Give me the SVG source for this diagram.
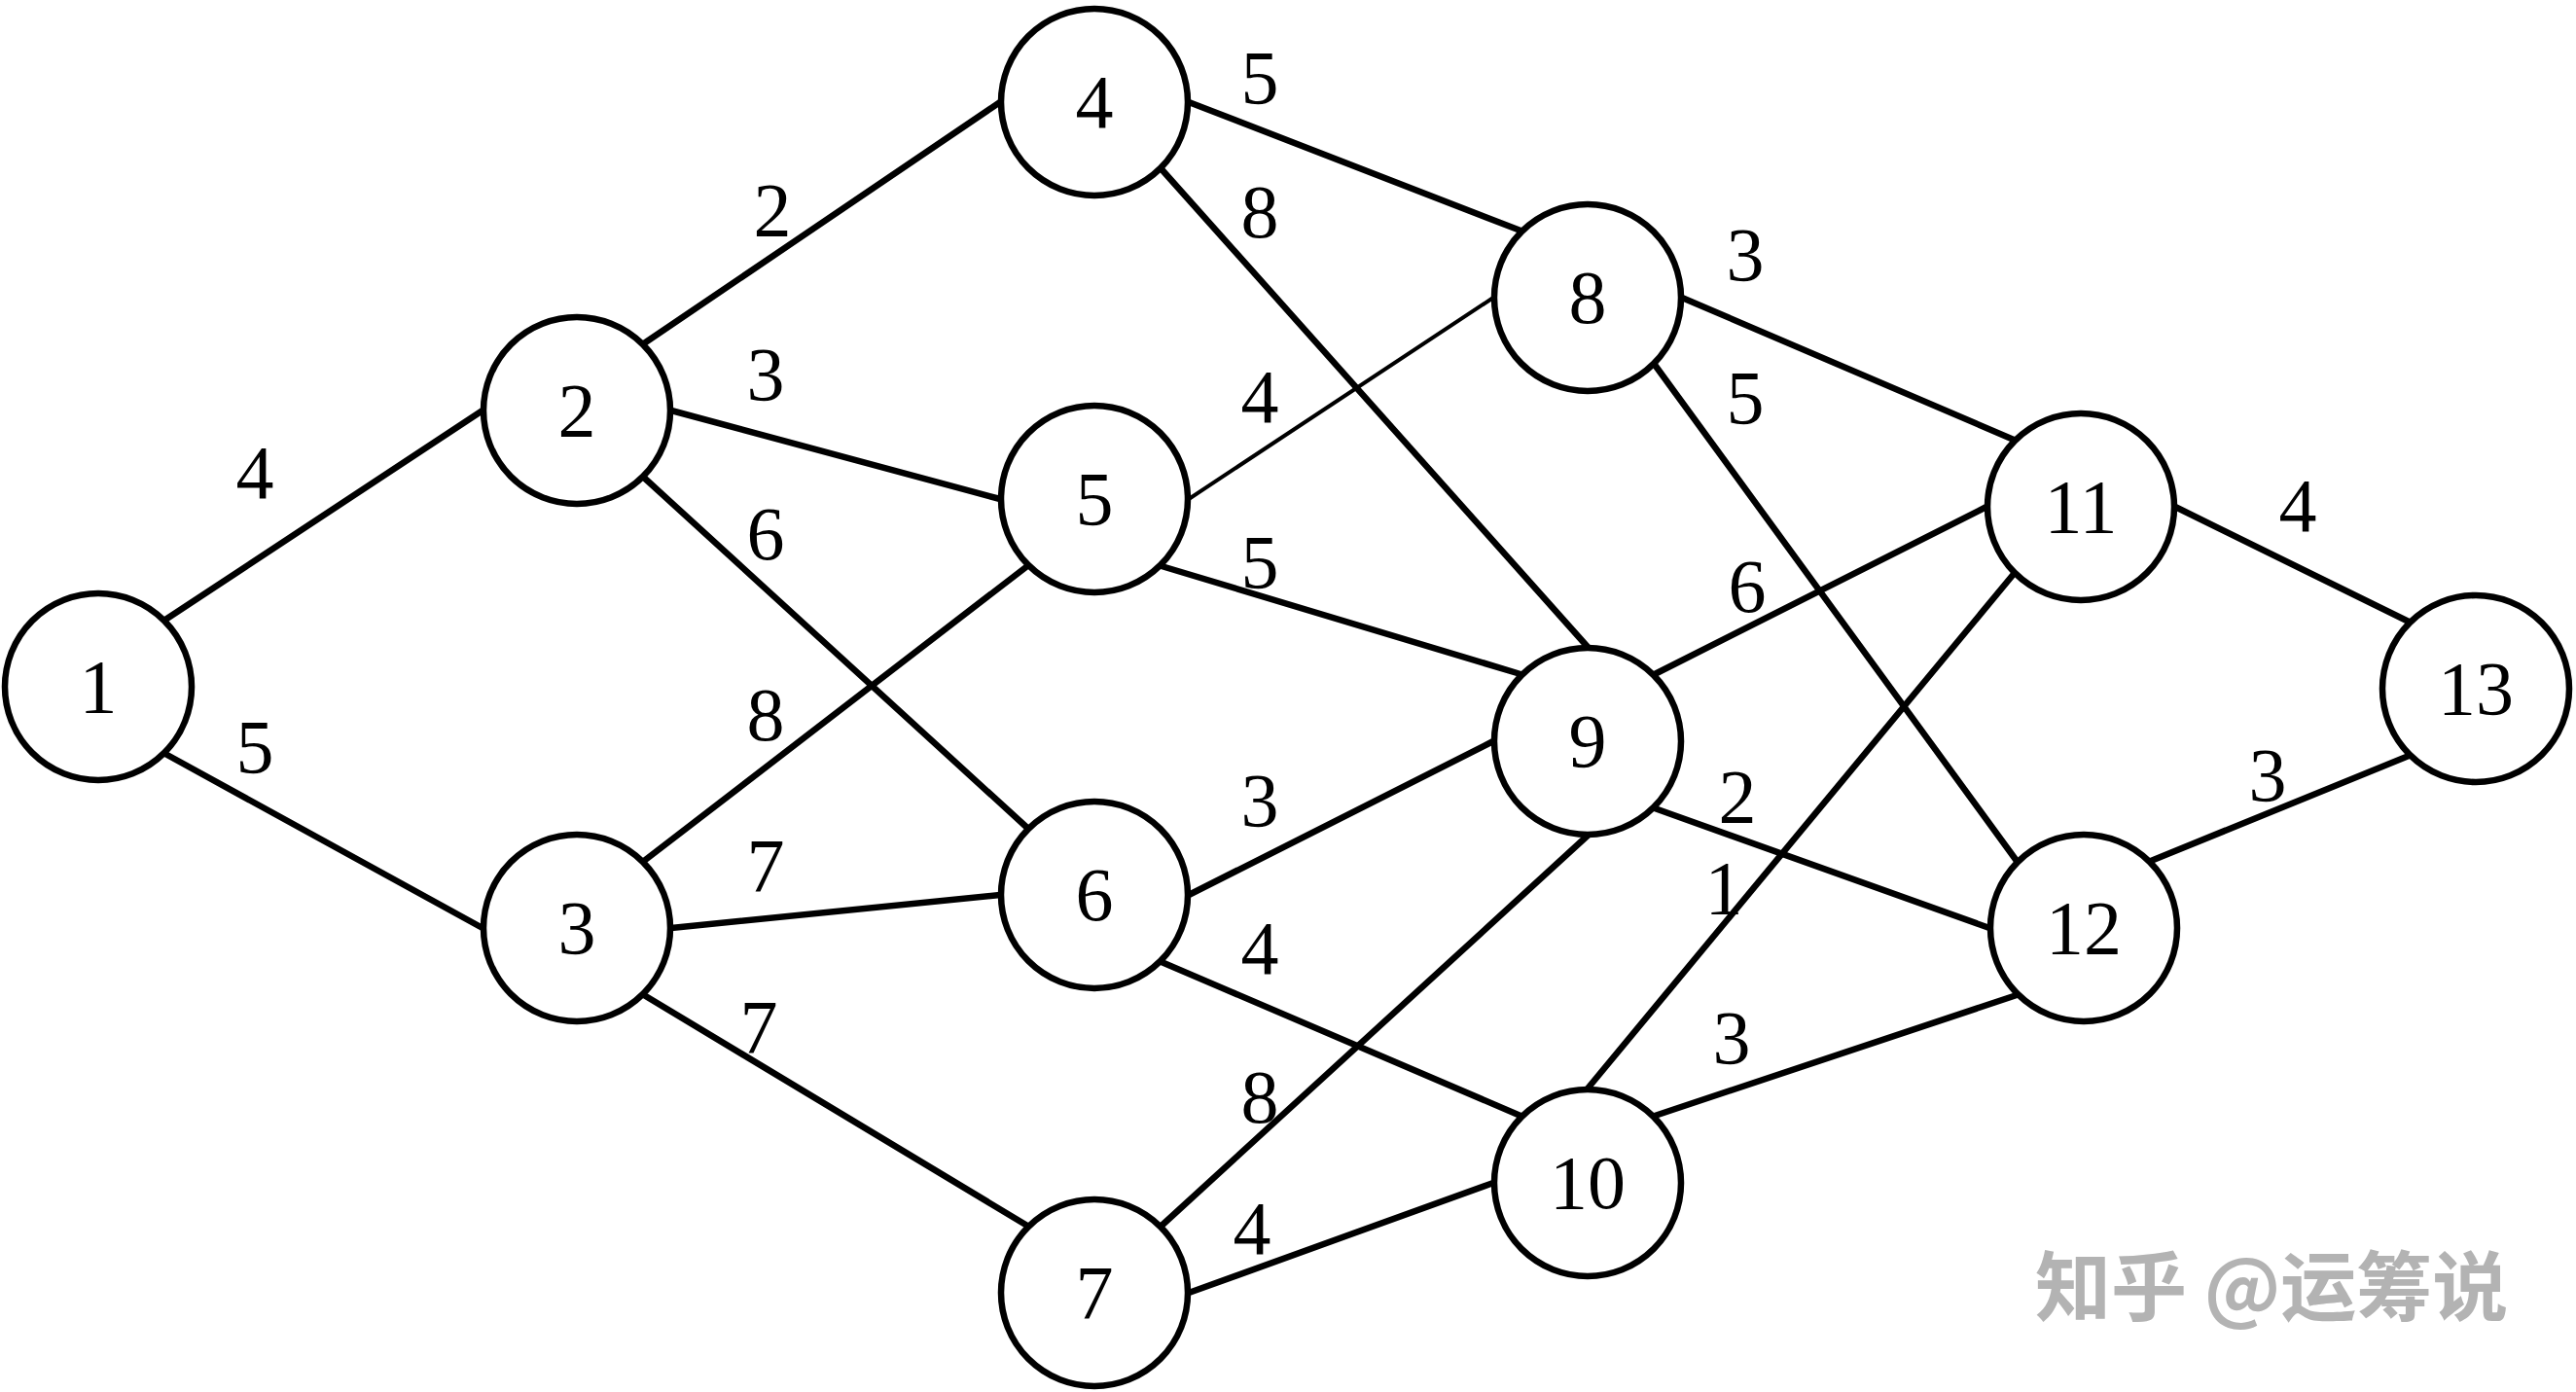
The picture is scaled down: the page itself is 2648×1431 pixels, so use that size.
<svg xmlns="http://www.w3.org/2000/svg" width="2648" height="1431" viewBox="0 0 2648 1431">
<style>
.e{stroke:#000;stroke-width:6.5;fill:none;stroke-linecap:round}
.thin{stroke-width:4}
.n circle{fill:#fff;stroke:#000;stroke-width:6.5}
.n text,.w{font-family:"Liberation Serif","Times New Roman",serif;font-size:78px;fill:#000;text-anchor:middle}
.wm{font-family:"Noto Sans CJK SC","Noto Sans",sans-serif;font-size:78px;font-weight:bold;fill:#b3b3b3}
</style>
<rect width="2648" height="1431" fill="#fff"/>
<g id="connectors">
<line class="e" x1="170" y1="637" x2="496" y2="422"/>
<line class="e" x1="170" y1="775" x2="496" y2="954"/>
<line class="e" x1="662" y1="353" x2="1028" y2="105"/>
<line class="e" x1="690" y1="422" x2="1028" y2="513"/>
<line class="e" x1="662" y1="491" x2="1056" y2="851"/>
<line class="e" x1="662" y1="885" x2="1056" y2="582"/>
<line class="e" x1="690" y1="954" x2="1028" y2="920"/>
<line class="e" x1="662" y1="1023" x2="1056" y2="1260"/>
<line class="e" x1="1222" y1="105" x2="1563" y2="237"/>
<line class="e" x1="1194" y1="174" x2="1632" y2="665"/>
<line class="e thin" x1="1222" y1="513" x2="1535" y2="306"/>
<line class="e" x1="1194" y1="582" x2="1563" y2="693"/>
<line class="e" x1="1222" y1="920" x2="1535" y2="762"/>
<line class="e" x1="1194" y1="989" x2="1563" y2="1147"/>
<line class="e" x1="1194" y1="1260" x2="1632" y2="859"/>
<line class="e" x1="1222" y1="1329" x2="1535" y2="1216"/>
<line class="e" x1="1729" y1="306" x2="2070" y2="452"/>
<line class="e" x1="1701" y1="375" x2="2073" y2="885"/>
<line class="e" x1="1701" y1="693" x2="2042" y2="521"/>
<line class="e" x1="1701" y1="831" x2="2045" y2="954"/>
<line class="e" x1="1632" y1="1119" x2="2070" y2="590"/>
<line class="e" x1="1701" y1="1147" x2="2073" y2="1023"/>
<line class="e" x1="2236" y1="521" x2="2476" y2="639"/>
<line class="e" x1="2211" y1="885" x2="2476" y2="777"/>
</g>
<g id="edge-labels">
<text class="w" x="262" y="512">4</text>
<text class="w" x="262" y="794">5</text>
<text class="w" x="794" y="242">2</text>
<text class="w" x="787" y="411">3</text>
<text class="w" x="787" y="575">6</text>
<text class="w" x="787" y="761">8</text>
<text class="w" x="787" y="916">7</text>
<text class="w" x="780" y="1082">7</text>
<text class="w" x="1295" y="106">5</text>
<text class="w" x="1295" y="244">8</text>
<text class="w" x="1295" y="434">4</text>
<text class="w" x="1295" y="604">5</text>
<text class="w" x="1295" y="849">3</text>
<text class="w" x="1295" y="1001">4</text>
<text class="w" x="1295" y="1154">8</text>
<text class="w" x="1287" y="1289">4</text>
<text class="w" x="1794" y="288">3</text>
<text class="w" x="1794" y="435">5</text>
<text class="w" x="1796" y="629">6</text>
<text class="w" x="1786" y="845">2</text>
<text class="w" x="1772" y="939">1</text>
<text class="w" x="1780" y="1093">3</text>
<text class="w" x="2362" y="546">4</text>
<text class="w" x="2331" y="823">3</text>
</g>
<g id="node1" class="n"><circle cx="101" cy="706" r="96"/><text x="101" y="732">1</text></g>
<g id="node2" class="n"><circle cx="593" cy="422" r="96"/><text x="593" y="448">2</text></g>
<g id="node3" class="n"><circle cx="593" cy="954" r="96"/><text x="593" y="980">3</text></g>
<g id="node4" class="n"><circle cx="1125" cy="105" r="96"/><text x="1125" y="131">4</text></g>
<g id="node5" class="n"><circle cx="1125" cy="513" r="96"/><text x="1125" y="539">5</text></g>
<g id="node6" class="n"><circle cx="1125" cy="920" r="96"/><text x="1125" y="946">6</text></g>
<g id="node7" class="n"><circle cx="1125" cy="1329" r="96"/><text x="1125" y="1355">7</text></g>
<g id="node8" class="n"><circle cx="1632" cy="306" r="96"/><text x="1632" y="332">8</text></g>
<g id="node9" class="n"><circle cx="1632" cy="762" r="96"/><text x="1632" y="788">9</text></g>
<g id="node10" class="n"><circle cx="1632" cy="1216" r="96"/><text x="1632" y="1242">10</text></g>
<g id="node11" class="n"><circle cx="2139" cy="521" r="96"/><text x="2139" y="547">11</text></g>
<g id="node12" class="n"><circle cx="2142" cy="954" r="96"/><text x="2142" y="980">12</text></g>
<g id="node13" class="n"><circle cx="2545" cy="708" r="96"/><text x="2545" y="734">13</text></g>
<text class="wm" x="2092" y="1352">知乎 @运筹说</text>
</svg>
